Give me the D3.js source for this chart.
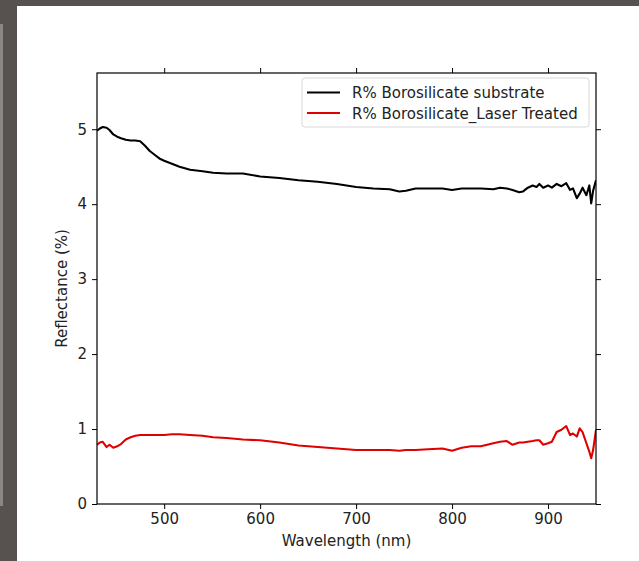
<!DOCTYPE html>
<html>
<head>
<meta charset="utf-8">
<script src="https://cdn.jsdelivr.net/npm/d3@7"></script>
<style>
  html, body { margin: 0; padding: 0; background: #ffffff; }
  svg { display: block; }
  text { font-family: "DejaVu Sans", sans-serif; }
</style>
</head>
<body>
<svg id="chart" width="639" height="561"></svg>
<script>
// ---- data ----
const wavelength = [430,433,436,440,443,447,451,455,460,465,470,475,480,485,490,495,500,508,516,527,540,551,565,582,600,620,640,660,680,700,718,735,745,752,762,775,790,800,810,820,830,843,850,857,863,870,874,879,884,888,891,895,900,904,909,914,919,923,926,930,933,936,940,943,945,947,950];
const substrate = [4.98,5.01,5.03,5.02,4.99,4.93,4.90,4.88,4.86,4.85,4.85,4.84,4.78,4.71,4.66,4.61,4.58,4.54,4.50,4.46,4.44,4.42,4.41,4.41,4.37,4.35,4.32,4.30,4.27,4.23,4.21,4.20,4.17,4.18,4.21,4.21,4.21,4.19,4.21,4.21,4.21,4.20,4.22,4.21,4.19,4.16,4.17,4.22,4.25,4.23,4.27,4.22,4.25,4.22,4.27,4.24,4.28,4.19,4.21,4.08,4.14,4.22,4.12,4.25,4.01,4.18,4.32];
const laserTreated = [0.79,0.82,0.83,0.76,0.79,0.75,0.77,0.80,0.86,0.89,0.91,0.92,0.92,0.92,0.92,0.92,0.92,0.93,0.93,0.92,0.91,0.89,0.88,0.86,0.85,0.82,0.78,0.76,0.74,0.72,0.72,0.72,0.71,0.72,0.72,0.73,0.74,0.71,0.75,0.77,0.77,0.81,0.83,0.84,0.79,0.82,0.82,0.83,0.84,0.85,0.85,0.79,0.81,0.83,0.96,0.99,1.04,0.92,0.94,0.90,1.01,0.96,0.81,0.70,0.61,0.72,0.99];
const xTicks = [500,600,700,800,900];
const yTicks = [0,1,2,3,4,5];
const seriesNames = ["R% Borosilicate substrate","R% Borosilicate_Laser Treated"];
const seriesColors = ["#000000","#e00000"];
const xLabel = "Wavelength (nm)";
const yLabel = "Reflectance (%)";

// ---- layout ----
const svg = d3.select("#chart");
const W = 639, H = 561;
const plot = {left: 97, right: 596, top: 73, bottom: 504};

// screenshot frame
svg.append("rect").attr("x",0).attr("y",0).attr("width",W).attr("height",H).attr("fill","#575250");
svg.append("rect").attr("x",0).attr("y",24).attr("width",3).attr("height",482).attr("fill","#8a8684");
svg.append("rect").attr("x",17).attr("y",6).attr("width",W-17).attr("height",H-6).attr("fill","#ffffff");

const x = d3.scaleLinear().domain([430,950]).range([plot.left, plot.right]);
const y = d3.scaleLinear().domain([0,5.75]).range([plot.bottom, plot.top]);

// lines
const series = [substrate, laserTreated];
const line = d3.line().x((d,i)=>x(wavelength[i])).y(d=>y(d));
const clipId = "plotclip";
svg.append("clipPath").attr("id",clipId).append("rect")
  .attr("x",plot.left).attr("y",plot.top).attr("width",plot.right-plot.left).attr("height",plot.bottom-plot.top);
series.forEach((s,k)=>{
  svg.append("path").datum(s).attr("d",line)
    .attr("fill","none").attr("stroke",seriesColors[k]).attr("stroke-width",2.1)
    .attr("stroke-linejoin","round").attr("clip-path",`url(#${clipId})`);
});

// axes
const fs = "15px";
const bottomAxis = d3.axisBottom(x).tickValues(xTicks).tickSize(5).tickPadding(4).tickFormat(d3.format("d"));
const topAxis = d3.axisTop(x).tickValues(xTicks).tickSize(5).tickFormat("");
const leftAxis = d3.axisLeft(y).tickValues(yTicks).tickSize(5).tickPadding(5).tickFormat(d3.format("d"));
const rightAxis = d3.axisRight(y).tickValues(yTicks).tickSize(5).tickFormat("");

function styleAxis(g){
  g.select(".domain").remove();
  g.selectAll("line").attr("stroke","#000").attr("stroke-width",1);
  g.selectAll("text").attr("fill","#222").style("font-size",fs).style("font-family","DejaVu Sans");
}
svg.append("g").attr("transform",`translate(0,${plot.bottom})`).call(bottomAxis).call(styleAxis);
svg.append("g").attr("transform",`translate(0,${plot.top})`).call(topAxis).call(styleAxis);
svg.append("g").attr("transform",`translate(${plot.left},0)`).call(leftAxis).call(styleAxis);
svg.append("g").attr("transform",`translate(${plot.right},0)`).call(rightAxis).call(styleAxis);

// frame
svg.append("rect").attr("x",plot.left).attr("y",plot.top)
  .attr("width",plot.right-plot.left).attr("height",plot.bottom-plot.top)
  .attr("fill","none").attr("stroke","#000").attr("stroke-width",1.2);

// axis labels
svg.append("text").attr("x",(plot.left+plot.right)/2).attr("y",546)
  .attr("text-anchor","middle").style("font-size",fs).attr("fill","#222").text(xLabel);
svg.append("text").attr("transform",`translate(67,${(plot.top+plot.bottom)/2}) rotate(-90)`)
  .attr("text-anchor","middle").style("font-size",fs).attr("fill","#222").text(yLabel);

// legend
const lg = svg.append("g");
lg.append("rect").attr("x",302).attr("y",78).attr("width",287).attr("height",49)
  .attr("rx",3).attr("fill","#fff").attr("fill-opacity",0.8).attr("stroke","#d8d8d8").attr("stroke-width",1);
seriesNames.forEach((name,k)=>{
  const cy = 92.5 + k*20.5;
  lg.append("line").attr("x1",307).attr("x2",340).attr("y1",cy).attr("y2",cy)
    .attr("stroke",seriesColors[k]).attr("stroke-width",2.1);
  lg.append("text").attr("x",352).attr("y",cy+5.5).style("font-size",fs).attr("fill","#222").text(name);
});
</script>
</body>
</html>
